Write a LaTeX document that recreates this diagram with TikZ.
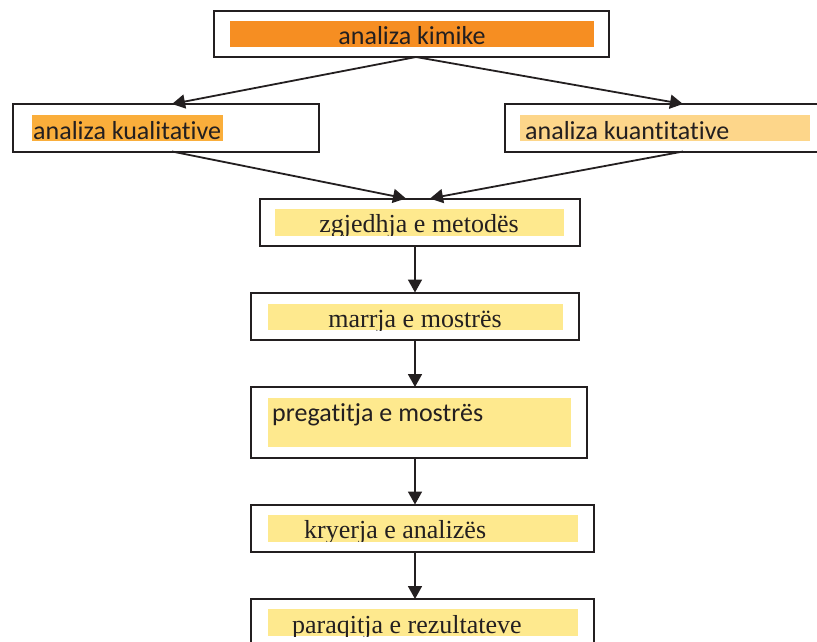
\documentclass[tikz,border=0pt]{standalone}
\usepackage{fontspec}
\setmainfont{Liberation Serif}
\newfontfamily\carl[Ligatures={NoCommon}]{Carlito}
\usetikzlibrary{arrows.meta}
\definecolor{ink}{HTML}{231F20}
\definecolor{orangeA}{HTML}{F68E22}
\definecolor{orangeB}{HTML}{FAAE3B}
\definecolor{orangeC}{HTML}{FDD68A}
\definecolor{yel}{HTML}{FEE98E}
\begin{document}
\begin{tikzpicture}[x=1pt,y=-1pt,
  box/.style={draw=ink,line width=2pt,fill=white},
  lbl/.style={inner sep=0pt,text=ink},
  sanslbl/.style={lbl,font=\carl\fontsize{26pt}{30pt}\selectfont},
  seriflbl/.style={lbl,font=\fontsize{26pt}{30pt}\selectfont},
  conn/.style={draw=ink,line width=1.8pt,-{Triangle[length=13pt,width=14pt]}}]
\useasboundingbox (0,0) rectangle (817,641);
% boxes
\draw[box] (213.5,10.5) rectangle (609,57);
\draw[box] (12.5,104) rectangle (318.5,151.5);
\draw[box] (504.5,104) rectangle (830,151.5);
\draw[box] (259.5,198.5) rectangle (579.5,246);
\draw[box] (251,292.5) rectangle (579,340);
\draw[box] (251,387) rectangle (587,457.5);
\draw[box] (251,504.5) rectangle (594,551.5);
\draw[box] (251,599) rectangle (594,700);
% coloured bands
\fill[orangeA] (230,20.5) rectangle (594,47);
\fill[orangeB] (32,114.5) rectangle (223,141);
\fill[orangeC] (520,114.5) rectangle (810,141);
\fill[yel] (275,209) rectangle (564,235.5);
\fill[yel] (267.5,303.5) rectangle (563,330);
\fill[yel] (267.5,397.5) rectangle (571,447);
\fill[yel] (267.5,515) rectangle (578,541.5);
\fill[yel] (267.5,609) rectangle (578,636);
% labels
\node[sanslbl,anchor=base] (kimike) at (412,44) {analiza kimike};
\node[sanslbl,anchor=base west] (kual) at (33,139) {analiza kualitative};
\node[sanslbl,anchor=base west] (kuant) at (525,139) {analiza kuantitative};
\begin{scope}
\clip (275,209) rectangle (564,235.5);
\node[seriflbl,anchor=base] (metod) at (419,232.5) {zgjedhja e metodës};
\end{scope}
\begin{scope}
\clip (267.5,303.5) rectangle (563,330);
\node[seriflbl,anchor=base] (marrja) at (415,327) {marrja e mostrës};
\end{scope}
\node[sanslbl,anchor=base west] (pregat) at (272,421.5) {pregatitja e mostrës};
\begin{scope}
\clip (267.5,515) rectangle (578,541.5);
\node[seriflbl,anchor=base west] (kryer) at (304,538.5) {kryerja e analizës};
\end{scope}
\begin{scope}
\clip (267.5,609) rectangle (578,636);
\node[seriflbl,anchor=base west] (paraq) at (292,633) {paraqitja e rezultateve};
\end{scope}
% connector end points
\coordinate (kimOut) at (416,57);
\coordinate (kualIn) at (172,104);
\coordinate (kuantIn) at (683,104);
\coordinate (kualOut) at (172,151.5);
\coordinate (kuantOut) at (683,151.5);
\coordinate (metIn1) at (406,198.5);
\coordinate (metIn2) at (430,198.5);
\coordinate (metOut) at (415,246);
\coordinate (marIn) at (415,292.5);
\coordinate (marOut) at (415,340);
\coordinate (preIn) at (415,387);
\coordinate (preOut) at (415,457.5);
\coordinate (kryIn) at (415,504.5);
\coordinate (kryOut) at (415,551.5);
\coordinate (parIn) at (415,599);
\draw[conn] (kimOut) -- (kualIn);
\draw[conn] (kimOut) -- (kuantIn);
\draw[conn] (kualOut) -- (metIn1);
\draw[conn] (kuantOut) -- (metIn2);
\draw[conn] (metOut) -- (marIn);
\draw[conn] (marOut) -- (preIn);
\draw[conn] (preOut) -- (kryIn);
\draw[conn] (kryOut) -- (parIn);
\end{tikzpicture}
\end{document}
